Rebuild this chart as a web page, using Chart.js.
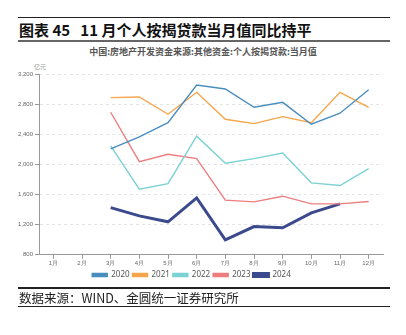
<!DOCTYPE html>
<html>
<head>
<meta charset="utf-8">
<script src="https://cdn.jsdelivr.net/npm/chart.js@4"></script>
<style>
  body { margin: 0; width: 406px; height: 335px; background: #fff; position: relative; overflow: hidden; font-family: "Noto Sans CJK SC", sans-serif; }
  .rule { position: absolute; left: 18px; width: 372px; background: #222; }
  #head { position: absolute; left: 19px; top: 20px; font-size: 15px; font-weight: bold; color: #111; line-height: 20px; white-space: pre; }
  #ctitle { position: absolute; left: 0; width: 406px; top: 45px; text-align: center; font-size: 9px; font-weight: bold; color: #555; }
  #unit { position: absolute; left: 34px; top: 62px; font-size: 6px; color: #999; }
  #src { position: absolute; left: 19px; top: 290px; font-size: 12.5px; color: #222; line-height: 16px; }
  #wrap { position: absolute; left: 0; top: 44px; width: 406px; height: 245px; }
</style>
</head>
<body>
<div class="rule" style="top:17px;height:1px;"></div>
<div id="head">图表 45   11 月个人按揭贷款当月值同比持平</div>
<div class="rule" style="top:40px;height:2px;background:#666;"></div>
<div id="ctitle">中国:房地产开发资金来源:其他资金:个人按揭贷款:当月值</div>
<div id="unit">亿元</div>
<div id="wrap"><canvas id="chart"></canvas></div>
<div class="rule" style="top:287px;height:2px;"></div>
<div id="src">数据来源：WIND、金圆统一证券研究所</div>
<div class="rule" style="top:306px;height:1px;"></div>
<script>
const months = ["1月", "2月", "3月", "4月", "5月", "6月", "7月", "8月", "9月", "10月", "11月", "12月"];
const s2020 = [null, null, 2205, 2365, 2554, 3054, 3001, 2758, 2824, 2533, 2679, 2992];
const s2021 = [null, null, 2886, 2895, 2666, 2957, 2599, 2541, 2634, 2554, 2957, 2758];
const s2022 = [null, null, 2245, 1671, 1745, 2374, 2016, 2077, 2152, 1755, 1719, 1944];
const s2023 = [null, null, 2692, 2037, 2135, 2077, 1525, 1503, 1578, 1476, 1476, 1507];
const s2024 = [null, null, 1427, 1317, 1238, 1556, 999, 1175, 1158, 1357, 1476, null];

function line(label, data, color, width) {
  return {
    label,
    data,
    borderColor: color,
    backgroundColor: color,
    borderWidth: width,
    pointRadius: 0,
    tension: 0,
    spanGaps: false
  };
}

const ctx = document.getElementById("chart");

new Chart(ctx, {
  type: "line",
  data: {
    labels: months,
    datasets: [
      line("2020", s2020, "#4a8dbf", 1.4),
      line("2021", s2021, "#f5a54b", 1.4),
      line("2022", s2022, "#7bd2d2", 1.4),
      line("2023", s2023, "#ec7e7e", 1.4),
      line("2024", s2024, "#3b4a8c", 3)
    ]
  },
  options: {
    responsive: true,
    maintainAspectRatio: false,
    animation: false,
    layout: { padding: { top: 30, right: 23, left: 0, bottom: 0 } },
    plugins: {
      title: { display: false },
      tooltip: { enabled: false },
      legend: {
        position: "bottom",
        labels: {
          boxWidth: 15,
          boxHeight: 3,
          padding: 3,
          color: "#555",
          font: { size: 8, family: "Noto Sans" }
        }
      }
    },
    scales: {
      x: {
        offset: true,
        grid: { drawOnChartArea: false, drawTicks: true, tickLength: 4, color: "#999" },
        border: { color: "#999" },
        ticks: { color: "#666", font: { size: 6 }, padding: 1, maxRotation: 0, autoSkip: false }
      },
      y: {
        min: 800,
        max: 3200,
        afterFit: scale => { scale.width = 39; },
        grid: { color: "#e4e4e4", tickLength: 4, tickColor: "#999", drawTicks: true },
        border: { color: "#999", dash: [3, 3] },
        ticks: { stepSize: 400, color: "#666", font: { size: 6 }, padding: 2 }
      }
    }
  }
});
</script>
</body>
</html>
